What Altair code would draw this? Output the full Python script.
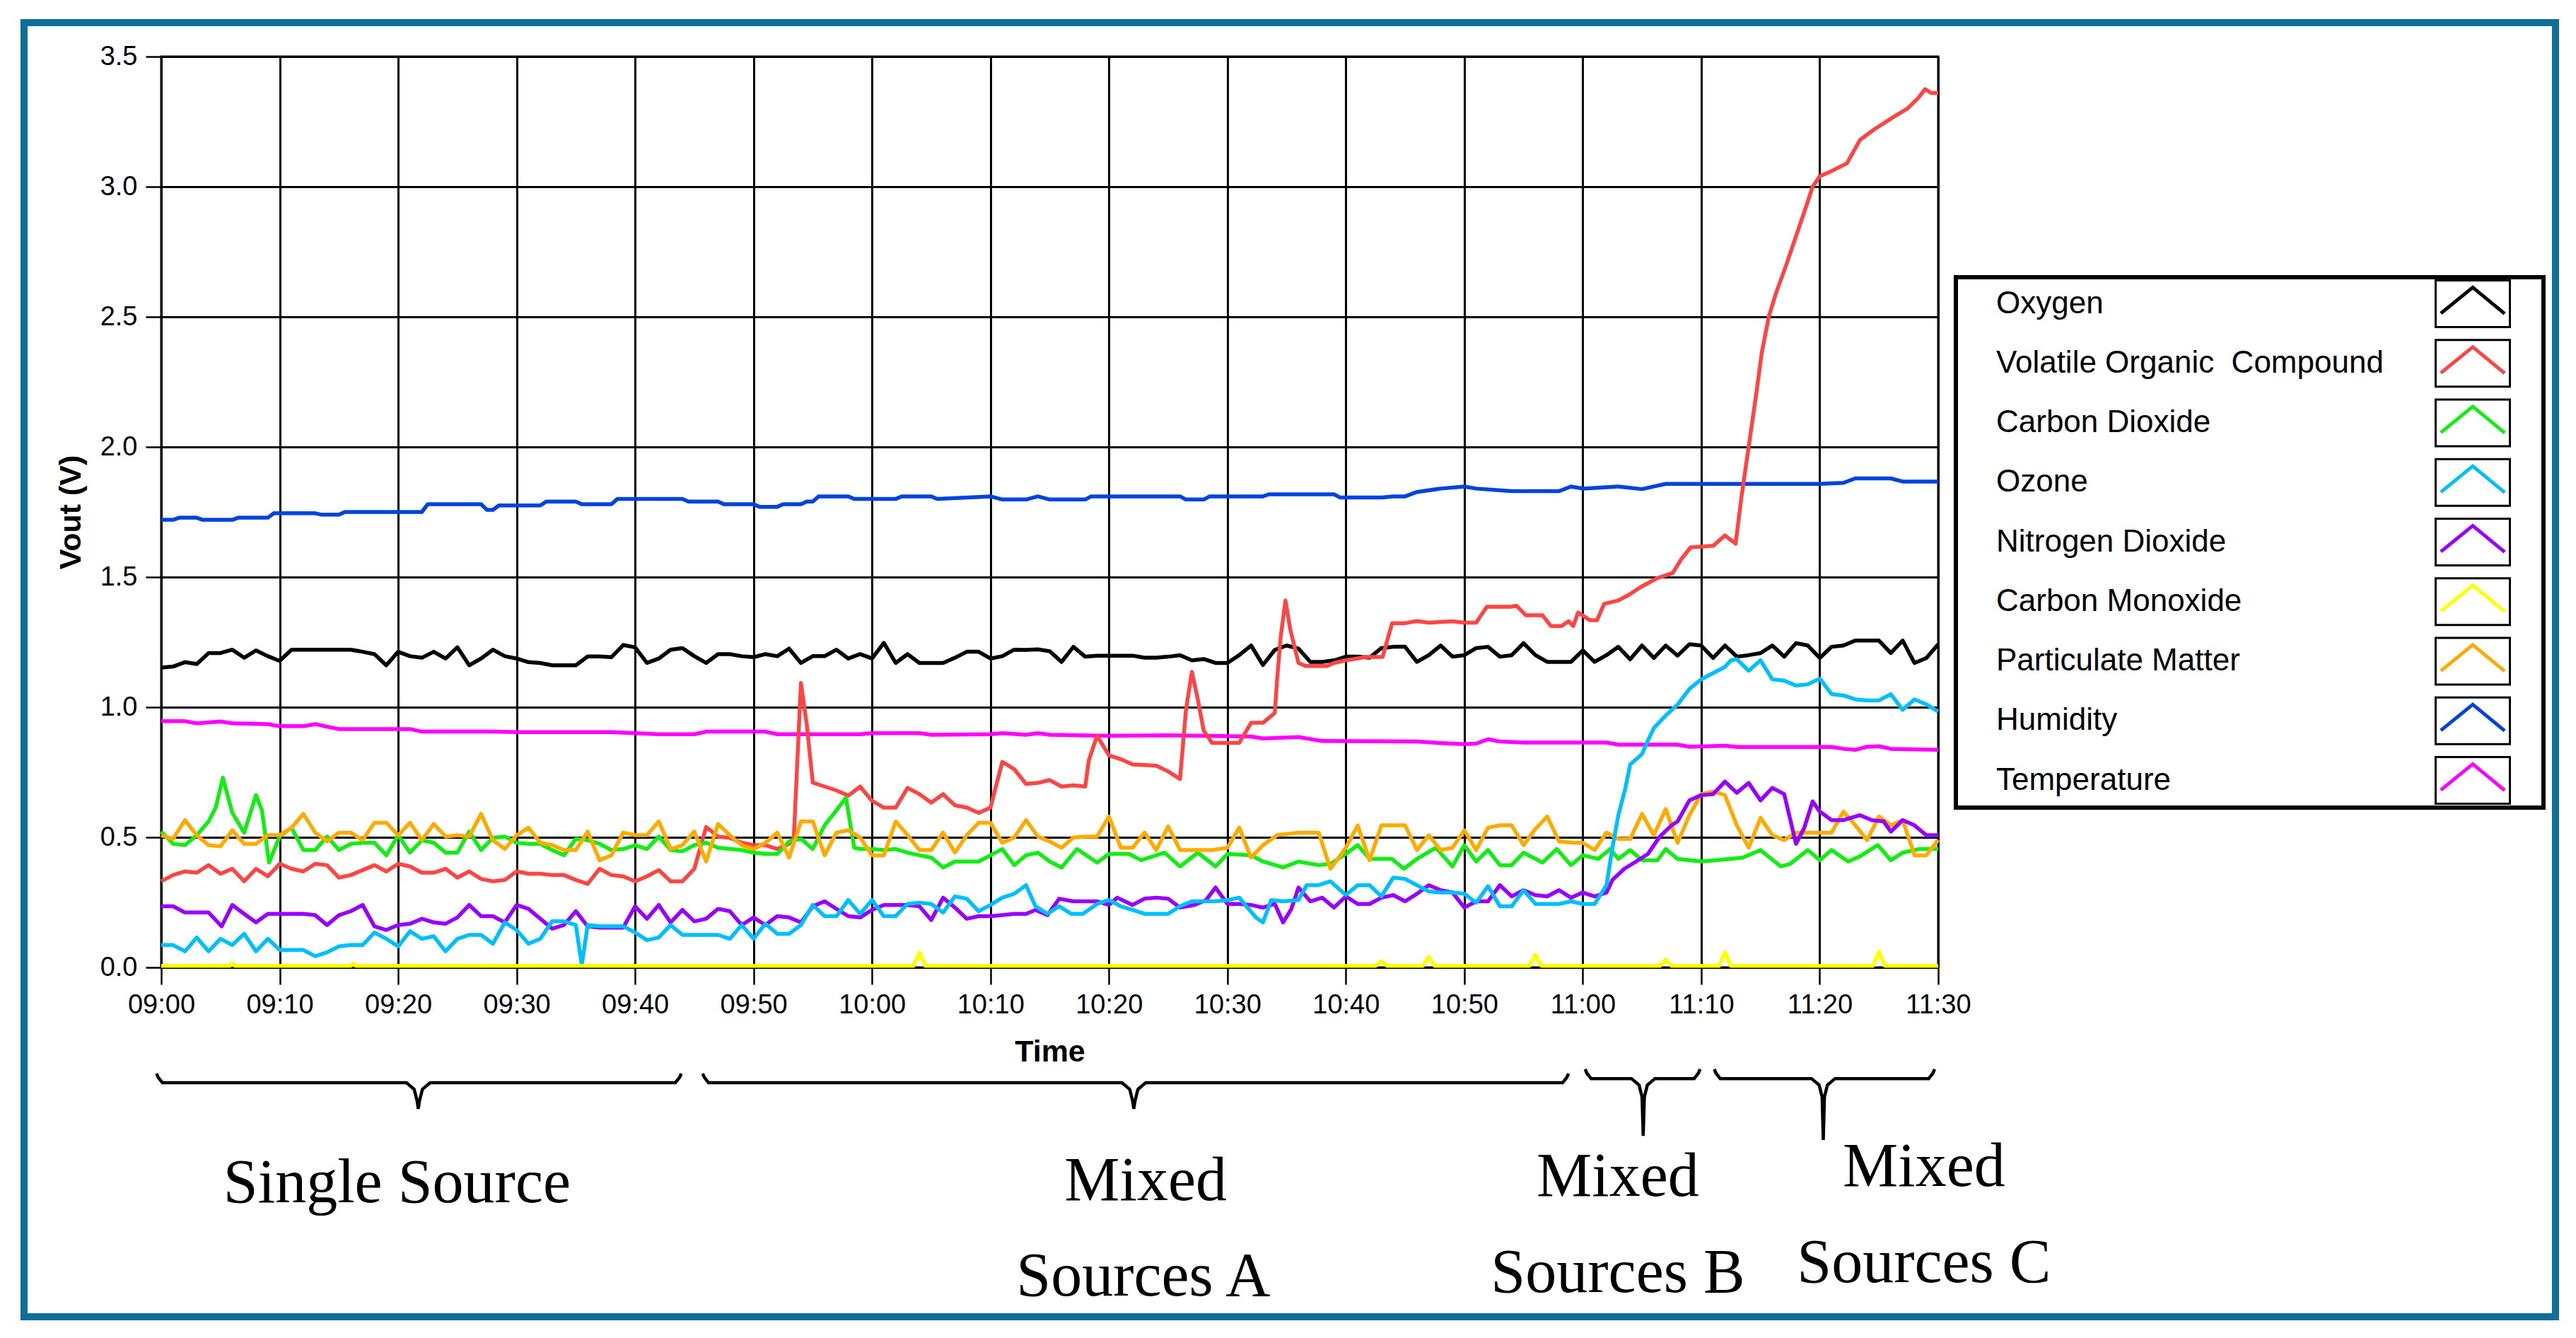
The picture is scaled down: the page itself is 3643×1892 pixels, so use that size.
import json
import altair as alt
import pandas as pd

# ---------------- data ----------------
NAMES = ["Oxygen", "Volatile Organic\u00a0 Compound", "Carbon Dioxide", "Ozone",
         "Nitrogen Dioxide", "Carbon Monoxide", "Particulate Matter", "Humidity", "Temperature"]
COLORS = ["#000000", "#FF4444", "#12EE12", "#00BFFF", "#9A00FF", "#FFFF00", "#FFAA00", "#0044DD", "#FF00FF"]
WIDTHS = [5.5, 5.5, 5.5, 6.5, 6.5, 7, 5, 7, 6.5]
DRAW_ORDER = ["Temperature", "Humidity", "Oxygen", "Volatile Organic\u00a0 Compound", "Carbon Dioxide",
              "Particulate Matter", "Nitrogen Dioxide", "Ozone", "Carbon Monoxide"]

TICK_MINUTES = [0, 10, 20, 30, 40, 50, 60, 70, 80, 90, 100, 110, 120, 130, 140, 150]
TICK_LABELS = ["09:00", "09:10", "09:20", "09:30", "09:40", "09:50", "10:00", "10:10",
               "10:20", "10:30", "10:40", "10:50", "11:00", "11:10", "11:20", "11:30"]
Y_TICKS = [0.0, 0.5, 1.0, 1.5, 2.0, 2.5, 3.0, 3.5]

OXY_T = list(range(151))
OXY_V = [1.152, 1.156, 1.173, 1.166, 1.208, 1.208, 1.221, 1.19, 1.218, 1.196,
         1.178, 1.221, 1.221, 1.221, 1.221, 1.221, 1.221, 1.213, 1.204, 1.161,
         1.213, 1.196, 1.19, 1.213, 1.187, 1.23, 1.161, 1.187, 1.221, 1.196,
         1.187, 1.173, 1.17, 1.161, 1.161, 1.161, 1.195, 1.195, 1.192, 1.239,
         1.23, 1.17, 1.187, 1.221, 1.227, 1.196, 1.17, 1.204, 1.204, 1.196,
         1.192, 1.204, 1.196, 1.225, 1.17, 1.196, 1.196, 1.221, 1.187, 1.204,
         1.187, 1.247, 1.17, 1.204, 1.17, 1.17, 1.17, 1.19, 1.213, 1.213,
         1.187, 1.196, 1.221, 1.22, 1.222, 1.215, 1.174, 1.232, 1.194, 1.198,
         1.198, 1.198, 1.198, 1.19, 1.19, 1.194, 1.2, 1.18, 1.185, 1.17,
         1.17, 1.2, 1.237, 1.162, 1.22, 1.237, 1.225, 1.174, 1.174, 1.18,
         1.194, 1.194, 1.19, 1.227, 1.232, 1.232, 1.174, 1.2, 1.237, 1.194,
         1.2, 1.227, 1.232, 1.194, 1.2, 1.246, 1.2, 1.174, 1.174, 1.174,
         1.218, 1.174, 1.2, 1.232, 1.184, 1.237, 1.189, 1.237, 1.198, 1.242,
         1.237, 1.189, 1.237, 1.194, 1.2, 1.208, 1.237, 1.194, 1.246, 1.237,
         1.189, 1.232, 1.237, 1.256, 1.256, 1.256, 1.208, 1.256, 1.17, 1.189, 1.242]

VOC = [(0, 0.331), (1, 0.355), (2, 0.369), (3, 0.364), (4, 0.393), (5, 0.36), (6, 0.379), (7, 0.331),
       (8, 0.379), (9, 0.35), (10, 0.398), (11, 0.379), (12, 0.369), (13, 0.398), (14, 0.393), (15, 0.345),
       (16, 0.355), (17, 0.374), (18, 0.393), (19, 0.369), (20, 0.398), (21, 0.388), (22, 0.364), (23, 0.364),
       (24, 0.379), (25, 0.345), (26, 0.369), (27, 0.34), (28, 0.331), (29, 0.336), (30, 0.369), (31, 0.36),
       (32, 0.36), (33, 0.355), (34, 0.355), (35, 0.336), (36, 0.321), (37, 0.379), (38, 0.355), (39, 0.35),
       (40, 0.331), (41, 0.35), (42, 0.374), (43, 0.331), (44, 0.331), (45, 0.379), (46, 0.54), (47, 0.503),
       (48, 0.498), (49, 0.479), (50, 0.47), (51, 0.47), (52, 0.455), (53, 0.475), (53.4, 0.5), (54, 1.093),
       (54.5, 0.93), (55, 0.71), (56, 0.695), (57, 0.68), (58, 0.66), (59, 0.695), (60, 0.64), (61, 0.614),
       (62, 0.614), (63, 0.69), (64, 0.666), (65, 0.633), (66, 0.666), (67, 0.623), (68, 0.614), (69, 0.594),
       (70, 0.614), (71, 0.79), (72, 0.762), (73, 0.705), (74, 0.709), (75, 0.72), (76, 0.695), (77, 0.7),
       (78, 0.695), (78.3, 0.796), (79, 0.89), (80, 0.815), (81, 0.8), (82, 0.78), (83, 0.778), (84, 0.775),
       (85, 0.753), (86, 0.724), (86.5, 0.988), (87, 1.136), (87.5, 1.03), (88, 0.91), (88.7, 0.863),
       (90, 0.863), (91, 0.863), (92, 0.94), (93, 0.94), (94, 0.978), (94.2, 1.11), (94.5, 1.27),
       (94.9, 1.41), (95.3, 1.3), (96, 1.17), (96.6, 1.158), (98.4, 1.158), (99, 1.17), (100, 1.18),
       (101.7, 1.193), (103.1, 1.193), (103.9, 1.323), (105, 1.323), (106, 1.331), (107, 1.325),
       (109, 1.33), (110, 1.325), (111, 1.325), (111.9, 1.386), (113.9, 1.386), (114.4, 1.39),
       (115.2, 1.353), (116.6, 1.353), (117.3, 1.312), (118.2, 1.312), (118.8, 1.33), (119.2, 1.312),
       (119.6, 1.364), (120.6, 1.334), (121.2, 1.334), (121.8, 1.397), (123, 1.41), (123.9, 1.432),
       (124.9, 1.462), (126.2, 1.494), (127.6, 1.516), (128.3, 1.568), (129.1, 1.614), (131, 1.62),
       (132, 1.66), (132.9, 1.628), (133.4, 1.81), (134, 2.0),
       (134.6, 2.19), (135.1, 2.36), (135.7, 2.5), (136.3, 2.59), (137.1, 2.69), (138, 2.81),
       (138.9, 2.93), (139.4, 3.0), (140, 3.04), (141, 3.06), (142.3, 3.09), (143.4, 3.18), (144.6, 3.22),
       (146.3, 3.27), (147.4, 3.3), (148.3, 3.34), (148.9, 3.375), (149.4, 3.36), (150, 3.36)]

CO2 = [(0, 0.522), (1, 0.475), (2, 0.47), (3, 0.508), (4, 0.561), (4.6, 0.614), (5.2, 0.729), (6, 0.594),
       (7, 0.518), (8, 0.662), (8.5, 0.604), (9.1, 0.403), (10, 0.503), (11, 0.537), (12, 0.451), (13, 0.451),
       (14, 0.503), (15, 0.451), (16, 0.475), (17, 0.479), (18, 0.479), (19, 0.431), (20, 0.508), (21, 0.441),
       (22, 0.489), (23, 0.479), (24, 0.441), (25, 0.441), (26, 0.522), (27, 0.451), (28, 0.498), (29, 0.503),
       (30, 0.479), (31, 0.475), (32, 0.475), (33, 0.451), (34, 0.431), (35, 0.494), (36, 0.489), (37, 0.475),
       (38, 0.451), (39, 0.455), (40, 0.47), (41, 0.455), (42, 0.503), (43, 0.451), (44, 0.446), (45, 0.47),
       (46, 0.479), (47, 0.46), (48, 0.455), (49, 0.451), (50, 0.441), (51, 0.436), (52, 0.436), (53, 0.484),
       (54, 0.494), (55, 0.455), (56, 0.546), (57, 0.604), (57.8, 0.652), (58.5, 0.46), (59, 0.455),
       (60, 0.455), (61, 0.451), (62, 0.455), (63, 0.441), (64, 0.431), (65, 0.422), (66, 0.384), (67, 0.407),
       (68, 0.407), (69, 0.407), (70, 0.431), (71, 0.455), (72, 0.393), (73, 0.431), (74, 0.441), (75, 0.407),
       (76, 0.384), (77.3, 0.455), (79, 0.403), (80, 0.436), (81.7, 0.436), (82.7, 0.412), (84.7, 0.441),
       (86, 0.388), (87.5, 0.441), (89, 0.388), (90, 0.436), (92, 0.431), (93, 0.407), (94.7, 0.384),
       (96, 0.407), (97.7, 0.393), (98.7, 0.398), (100, 0.436), (101, 0.47), (102, 0.417), (103.9, 0.417),
       (104.9, 0.379), (106, 0.417), (107.6, 0.46), (109, 0.388), (110, 0.47), (111, 0.407), (112, 0.451),
       (113, 0.393), (114, 0.393), (115, 0.441), (116.6, 0.403), (117.8, 0.455), (119, 0.393), (120, 0.431),
       (121.3, 0.417), (122.3, 0.455), (123, 0.417), (124, 0.451), (125, 0.412), (126.3, 0.412),
       (127, 0.455), (128, 0.417), (130, 0.407), (132.5, 0.417), (133.5, 0.422), (135, 0.451),
       (136.7, 0.388), (137.5, 0.398), (139, 0.451), (140, 0.412), (141, 0.451), (142.4, 0.407),
       (143.4, 0.427), (144.9, 0.47), (146, 0.412), (147, 0.441), (148.4, 0.455), (150, 0.455)]

OZONE = [(0, 0.086), (1, 0.086), (2, 0.062), (3, 0.115), (4, 0.062), (5, 0.11), (6, 0.086), (7, 0.129),
         (8, 0.062), (9, 0.11), (10, 0.067), (11, 0.067), (12, 0.067), (13, 0.043), (14, 0.058), (15, 0.081),
         (16, 0.086), (17, 0.086), (18, 0.134), (19, 0.11), (20, 0.081), (21, 0.139), (22, 0.11), (23, 0.12),
         (24, 0.062), (25, 0.11), (26, 0.125), (27, 0.125), (28, 0.091), (29, 0.173), (30, 0.144), (31, 0.091),
         (32, 0.11), (33, 0.177), (34, 0.177), (35, 0.163), (35.5, 0.01), (36, 0.163), (37, 0.158),
         (38, 0.158), (39, 0.158), (40, 0.134), (41, 0.105), (42, 0.115), (43, 0.163), (44, 0.125),
         (45, 0.125), (46, 0.125), (47, 0.125), (48, 0.11), (49, 0.163), (50, 0.11), (51, 0.168), (52, 0.129),
         (53, 0.129), (54, 0.163), (55, 0.24), (56, 0.197), (57, 0.197), (58, 0.259), (59, 0.206), (60, 0.259),
         (61, 0.197), (62, 0.197), (63, 0.244), (64, 0.249), (65, 0.244), (66, 0.211), (67, 0.273),
         (68, 0.264), (69, 0.216), (70, 0.24), (71, 0.268), (72, 0.283), (73, 0.316), (73.8, 0.235),
         (74.8, 0.206), (75.8, 0.235), (76.8, 0.206), (77.8, 0.206), (79, 0.244), (80, 0.259), (81, 0.235),
         (82, 0.221), (83, 0.206), (84, 0.206), (85, 0.206), (86, 0.235), (87, 0.254), (88, 0.254),
         (89, 0.254), (90, 0.259), (91, 0.268), (91.7, 0.23), (92.4, 0.192), (93, 0.173), (93.7, 0.259),
         (94.7, 0.254), (96, 0.259), (96.7, 0.316), (97.7, 0.316), (98.7, 0.331), (100, 0.278), (101, 0.316),
         (102, 0.316), (103, 0.273), (104, 0.345), (105, 0.34), (106, 0.316), (107, 0.292), (108, 0.288),
         (109, 0.288), (110, 0.283), (111, 0.249), (112, 0.312), (113, 0.235), (114, 0.235), (115, 0.297),
         (116, 0.244), (117, 0.244), (118, 0.244), (119, 0.254), (120, 0.244), (121, 0.244), (122, 0.316),
         (122.5, 0.46), (123, 0.585), (123.6, 0.69), (124, 0.78), (125, 0.82), (125.5, 0.872), (126, 0.92),
         (127, 0.968), (128, 1.01), (129, 1.07), (130, 1.107), (131, 1.131), (132, 1.155), (132.5, 1.18),
         (133, 1.184), (134, 1.14), (135, 1.18), (136, 1.107), (137, 1.102), (138, 1.083), (139, 1.088),
         (140, 1.11), (141, 1.05), (142, 1.045), (143, 1.03), (144, 1.026), (145, 1.026), (146, 1.05),
         (147, 0.99), (148, 1.03), (149, 1.011), (150, 0.983)]

NO2 = [(0, 0.235), (1, 0.235), (2, 0.211), (3, 0.211), (4, 0.211), (5.1, 0.158), (6, 0.24), (7, 0.206),
       (8, 0.173), (9, 0.206), (10, 0.206), (11, 0.206), (12, 0.206), (13, 0.201), (14, 0.163), (15, 0.201),
       (16, 0.216), (17, 0.24), (18, 0.158), (19, 0.144), (20, 0.163), (21, 0.168), (22, 0.187), (23, 0.173),
       (24, 0.168), (25, 0.192), (26, 0.24), (27, 0.197), (28, 0.197), (29, 0.173), (30, 0.24), (31, 0.225),
       (32, 0.187), (33, 0.149), (34, 0.163), (35, 0.216), (36, 0.158), (37, 0.153), (38, 0.153), (39, 0.153),
       (40, 0.235), (41, 0.187), (42, 0.24), (43, 0.173), (44, 0.221), (45, 0.177), (46, 0.187), (47, 0.225),
       (48, 0.216), (49, 0.163), (50, 0.192), (51, 0.163), (52, 0.197), (53, 0.192), (54, 0.173), (55, 0.235),
       (56, 0.254), (57, 0.225), (58, 0.197), (59, 0.192), (60, 0.221), (61, 0.24), (62, 0.24), (63, 0.24),
       (64, 0.235), (65, 0.182), (66, 0.268), (67, 0.23), (68, 0.187), (69, 0.197), (70, 0.197), (71, 0.201),
       (72, 0.206), (73, 0.206), (73.8, 0.221), (74.8, 0.201), (75.8, 0.264), (77, 0.254), (79, 0.254),
       (80, 0.24), (80.7, 0.268), (82, 0.24), (83, 0.264), (84, 0.268), (85, 0.264), (86, 0.23), (87.2, 0.24),
       (88.2, 0.259), (89, 0.307), (90, 0.244), (91, 0.244), (92, 0.24), (93, 0.23), (94, 0.244),
       (94.7, 0.173), (95.4, 0.225), (96, 0.307), (97, 0.254), (98, 0.268), (99, 0.23), (100, 0.273),
       (101, 0.244), (102, 0.244), (103, 0.268), (104, 0.278), (105, 0.254), (106, 0.283), (107, 0.316),
       (108, 0.297), (109, 0.288), (110, 0.23), (111, 0.254), (112, 0.254), (113, 0.316), (114, 0.273),
       (115, 0.297), (116, 0.278), (117, 0.273), (118, 0.297), (119, 0.268), (120, 0.288), (121, 0.273),
       (122, 0.288), (122.5, 0.336), (123.5, 0.379), (124.5, 0.407), (125.5, 0.436), (126.5, 0.503),
       (127.5, 0.546), (128, 0.561), (129, 0.642), (130, 0.662), (131, 0.666), (132, 0.714), (133, 0.671),
       (134, 0.709), (135, 0.642), (136, 0.69), (137, 0.666), (138, 0.475), (138.7, 0.537), (139.4, 0.638),
       (140, 0.599), (141, 0.566), (142, 0.566), (143.4, 0.585), (144.4, 0.566), (145.4, 0.561),
       (146, 0.522), (147, 0.566), (148, 0.546), (149, 0.508), (150, 0.508)]

CO = [(0, 0.006), (5.8, 0.006), (6, 0.015), (6.2, 0.006), (16, 0.006), (16.2, 0.015), (16.4, 0.006),
      (63.5, 0.006), (64, 0.057), (64.5, 0.006), (102.5, 0.006), (103, 0.024), (103.5, 0.006),
      (106.5, 0.006), (107, 0.04), (107.5, 0.006), (115.5, 0.006), (116, 0.048), (116.5, 0.006),
      (126.5, 0.006), (127, 0.03), (127.5, 0.006), (131.5, 0.006), (132, 0.058), (132.5, 0.006),
      (144.5, 0.006), (145, 0.06), (145.5, 0.006), (150, 0.006)]

PM = [(0, 0.508), (1, 0.494), (2, 0.566), (3, 0.508), (4, 0.47), (5, 0.465), (6, 0.527), (7, 0.475),
      (8, 0.475), (9, 0.508), (10, 0.508), (11, 0.537), (12, 0.59), (13, 0.518), (14, 0.484), (15, 0.518),
      (16, 0.518), (17, 0.489), (18, 0.556), (19, 0.556), (20, 0.508), (21, 0.556), (22, 0.489), (23, 0.551),
      (24, 0.503), (25, 0.508), (26, 0.503), (27, 0.59), (28, 0.489), (29, 0.455), (30, 0.508), (31, 0.537),
      (32, 0.479), (33, 0.47), (34, 0.451), (35, 0.451), (36, 0.522), (37, 0.412), (38, 0.431), (39, 0.518),
      (40, 0.508), (41, 0.508), (42, 0.561), (43, 0.455), (44, 0.47), (45, 0.522), (46, 0.407), (47, 0.551),
      (48, 0.508), (49, 0.47), (50, 0.455), (51, 0.479), (52, 0.518), (53, 0.422), (54, 0.561), (55, 0.561),
      (56, 0.431), (57, 0.518), (58, 0.527), (59, 0.499), (60, 0.431), (61, 0.431), (62, 0.561), (63, 0.508),
      (64, 0.451), (65, 0.451), (66, 0.518), (67, 0.441), (68, 0.508), (69, 0.556), (70, 0.556), (71, 0.479),
      (72, 0.499), (73, 0.566), (74, 0.503), (75, 0.484), (76, 0.46), (77, 0.499), (78, 0.503), (79, 0.503),
      (80, 0.58), (81, 0.46), (82, 0.46), (83, 0.518), (84, 0.451), (85, 0.542), (86, 0.451), (87.2, 0.451),
      (88.7, 0.451), (90, 0.46), (91, 0.537), (92, 0.422), (93, 0.47), (94.2, 0.508), (96, 0.518),
      (97.7, 0.518), (98.7, 0.379), (100, 0.46), (101, 0.546), (102, 0.412), (103, 0.546), (105, 0.546),
      (106, 0.451), (107, 0.508), (108, 0.451), (109, 0.46), (110, 0.527), (111, 0.451), (112, 0.537),
      (113, 0.546), (114, 0.546), (115, 0.47), (116, 0.532), (117, 0.58), (118, 0.484), (119.3, 0.479),
      (120, 0.479), (121, 0.451), (122, 0.518), (123, 0.494), (124, 0.494), (125, 0.59), (126, 0.508),
      (127, 0.609), (128, 0.479), (129, 0.585), (130, 0.666), (131, 0.676), (132, 0.662), (133, 0.546),
      (134, 0.46), (135, 0.575), (136, 0.508), (137, 0.489), (138, 0.518), (139, 0.518), (140, 0.518),
      (141, 0.518), (142, 0.599), (143, 0.546), (144, 0.489), (145, 0.58), (146, 0.546), (147, 0.566),
      (148, 0.431), (149, 0.431), (150, 0.49)]

HUMIDITY = [(0, 1.72), (1, 1.72), (1.5, 1.728), (3, 1.728), (3.5, 1.72), (6, 1.72), (6.5, 1.728), (9, 1.728),
            (9.5, 1.745), (13, 1.745), (13.5, 1.74), (15, 1.74), (15.5, 1.75), (22, 1.75), (22.5, 1.78),
            (27, 1.78), (27.5, 1.758), (28, 1.758), (28.5, 1.775), (32, 1.775), (32.5, 1.79), (35, 1.79),
            (35.5, 1.78), (38, 1.78), (38.5, 1.8), (44, 1.8), (44.5, 1.79), (47, 1.79), (47.5, 1.78),
            (50, 1.78), (50.5, 1.77), (52, 1.77), (52.5, 1.78), (54, 1.78), (54.5, 1.79), (55, 1.79),
            (55.5, 1.81), (58, 1.81), (58.5, 1.8), (62, 1.8), (62.5, 1.81), (65, 1.81), (65.5, 1.8),
            (70, 1.81), (71, 1.798), (73, 1.798), (74, 1.81), (75, 1.798), (78, 1.798), (78.5, 1.81),
            (86, 1.81), (86.5, 1.798), (88, 1.798), (88.5, 1.81), (93, 1.81), (93.5, 1.818), (99, 1.818),
            (99.5, 1.806), (103, 1.806), (104, 1.81), (105, 1.81), (106, 1.827), (108, 1.84), (110, 1.848),
            (111, 1.84), (114, 1.83), (118, 1.83), (119, 1.848), (120, 1.84), (123, 1.848), (125, 1.838),
            (126, 1.848), (127, 1.858), (140, 1.858), (142, 1.862), (143, 1.879), (146, 1.879), (147, 1.867),
            (150, 1.867)]

TEMPERATURE = [(0, 0.946), (2, 0.946), (3, 0.938), (5, 0.945), (6, 0.938), (9, 0.935), (10, 0.927),
               (12, 0.927), (13, 0.935), (14, 0.925), (15, 0.916), (21, 0.916), (22, 0.906), (28, 0.906),
               (30, 0.904), (38, 0.904), (40, 0.9), (42, 0.896), (45, 0.896), (46, 0.906), (51, 0.906),
               (52, 0.896), (59, 0.896), (60, 0.9), (64, 0.9), (65, 0.894), (70, 0.896), (71, 0.9),
               (73, 0.894), (74, 0.9), (75, 0.894), (80, 0.89), (85, 0.892), (88, 0.89), (92, 0.887),
               (93, 0.88), (96, 0.885), (98, 0.87), (106, 0.868), (108, 0.862), (110, 0.858), (111, 0.86),
               (112, 0.877), (113, 0.868), (115, 0.864), (122, 0.864), (123, 0.856), (128, 0.856),
               (129, 0.848), (132, 0.852), (133, 0.847), (141, 0.847), (142, 0.84), (143, 0.836),
               (144, 0.848), (145, 0.85), (146, 0.84), (150, 0.836)]

# brace spans: (start minute, end minute, tip minute, line V, hook V, tip V)
BRACES = [(-0.4, 43.9, 21.7, -0.443, -0.408, -0.543),
          (45.7, 118.8, 82.1, -0.443, -0.408, -0.543),
          (120.2, 129.9, 125.1, -0.427, -0.391, -0.647),
          (131.1, 149.7, 140.3, -0.427, -0.391, -0.663)]

ANNOTATIONS = [("Single Source", 19.9, -0.902), ("Mixed", 83.1, -0.894), ("Sources A", 82.9, -1.261),
               ("Mixed", 122.96, -0.878), ("Sources B", 122.96, -1.247),
               ("Mixed", 148.8, -0.840), ("Sources C", 148.8, -1.209)]

# ---------------- build tables ----------------
series_points = {
    "Oxygen": list(zip(OXY_T, OXY_V)),
    "Volatile Organic\u00a0 Compound": VOC,
    "Carbon Dioxide": CO2,
    "Ozone": OZONE,
    "Nitrogen Dioxide": NO2,
    "Carbon Monoxide": CO,
    "Particulate Matter": PM,
    "Humidity": HUMIDITY,
    "Temperature": TEMPERATURE,
}
rows = []
for name in DRAW_ORDER:
    for t, v in series_points[name]:
        rows.append({"series": name, "t": t, "v": v})
lines_df = pd.DataFrame(rows)

brace_rows = []
for i, (s, e, tip, yl, yh, yt) in enumerate(BRACES):
    pts = [(s, yh), (s + 0.15, yl + 0.02), (s + 0.5, yl), (tip - 1.0, yl), (tip - 0.35, yl - 0.025),
           (tip - 0.1, yl - 0.07), (tip, yt), (tip + 0.1, yl - 0.07), (tip + 0.35, yl - 0.025),
           (tip + 1.0, yl), (e - 0.5, yl), (e - 0.15, yl + 0.02), (e, yh)]
    for k, (t, v) in enumerate(pts):
        brace_rows.append({"brace": i, "k": k, "t": t, "v": v})
brace_df = pd.DataFrame(brace_rows)

ann_df = pd.DataFrame([{"label": a, "t": t, "v": v} for a, t, v in ANNOTATIONS])
legend_df = pd.DataFrame({"series": NAMES})

# ---------------- encodings ----------------
label_expr = json.dumps(TICK_LABELS) + "[round(datum.value / 10)]"
X = alt.X("t:Q",
          scale=alt.Scale(domain=[0, 150], nice=False, zero=False),
          axis=alt.Axis(values=TICK_MINUTES, labelExpr=label_expr, title="Time",
                        grid=True, gridColor="black", gridWidth=3, gridOpacity=1,
                        domain=False, ticks=True, tickColor="black", tickWidth=2.5, tickSize=24,
                        labelFont="Liberation Sans", labelFontSize=38, labelColor="black",
                        labelPadding=10, labelFlush=False, labelOverlap=False,
                        titleFont="Liberation Sans", titleFontSize=43, titleFontWeight="bold",
                        titleColor="black", titleY=132, titleBaseline="alphabetic"))
Y = alt.Y("v:Q",
          scale=alt.Scale(domain=[0, 3.5], nice=False, zero=False),
          axis=alt.Axis(values=Y_TICKS, format=".1f", title="Vout (V)",
                        grid=True, gridColor="black", gridWidth=3, gridOpacity=1,
                        domain=False, ticks=True, tickColor="black", tickWidth=2.5, tickSize=22,
                        labelFont="Liberation Sans", labelFontSize=38, labelColor="black",
                        labelPadding=12, labelFlush=False, labelOverlap=False,
                        titleFont="Liberation Sans", titleFontSize=43, titleFontWeight="bold",
                        titleColor="black", titleX=-115, titleBaseline="alphabetic"))
COLOR = alt.Color("series:N", scale=alt.Scale(domain=NAMES, range=COLORS), legend=None)

lines = alt.Chart(lines_df).mark_line(strokeJoin="round").encode(
    x=X, y=Y, color=COLOR,
    strokeWidth=alt.StrokeWidth("series:N", scale=alt.Scale(domain=NAMES, range=WIDTHS), legend=None),
)

braces = alt.Chart(brace_df).mark_line(color="black", strokeWidth=4.5).encode(
    x=X, y=Y, detail="brace:N", order="k:Q")

ann = alt.Chart(ann_df).mark_text(font="Liberation Serif", fontSize=88, color="black",
                                  align="center", baseline="alphabetic").encode(
    x=X, y=Y, text="label:N")

main = alt.layer(lines, braces, ann)

# ---------------- legend (own vertical scale) ----------------
LY = alt.Y("series:N", scale=alt.Scale(domain=NAMES, range=[349.5, 1023.5], padding=0), axis=None)

leg_text = alt.Chart(legend_df).mark_text(font="Liberation Sans", fontSize=44, color="black",
                                          align="left", baseline="alphabetic", dy=13).encode(
    x=alt.value(2595), y=LY, text="series:N")

leg_box = alt.Chart(legend_df).mark_point(shape="M-1,-0.63L1,-0.63L1,0.63L-1,0.63Z", size=11025,
                                          filled=False, color="black", strokeWidth=3, opacity=1).encode(
    x=alt.value(3269), y=LY)

leg_caret = alt.Chart(legend_df).mark_point(shape="M-0.86,0.26L0,-0.44L0.86,0.27", size=11025,
                                            filled=False, strokeWidth=5, opacity=1).encode(
    x=alt.value(3269), y=LY, color=COLOR)

frame_df = pd.DataFrame({"k": [0]})
leg_frame = alt.Chart(frame_df).mark_rect(filled=False, color="black", strokeWidth=6).encode(
    x=alt.value(2538), x2=alt.value(3369), y=alt.value(312), y2=alt.value(1062))

border = alt.Chart(frame_df).mark_rect(filled=False, color="#0E6F9B", strokeWidth=10).encode(
    x=alt.value(-194), x2=alt.value(3386), y=alt.value(-48), y2=alt.value(1782))

legend = alt.layer(leg_frame, leg_box, leg_caret, leg_text, border)

chart = alt.layer(main, legend).resolve_scale(y="independent").properties(
    width=2513, height=1288,
    autosize=alt.AutoSizeParams(type="none"),
    padding={"left": 220, "top": 72, "right": 894, "bottom": 516},
    background="white",
).configure_view(stroke="black", strokeWidth=3)

chart.save("out.html", embed_options={"renderer": "svg", "actions": False})
